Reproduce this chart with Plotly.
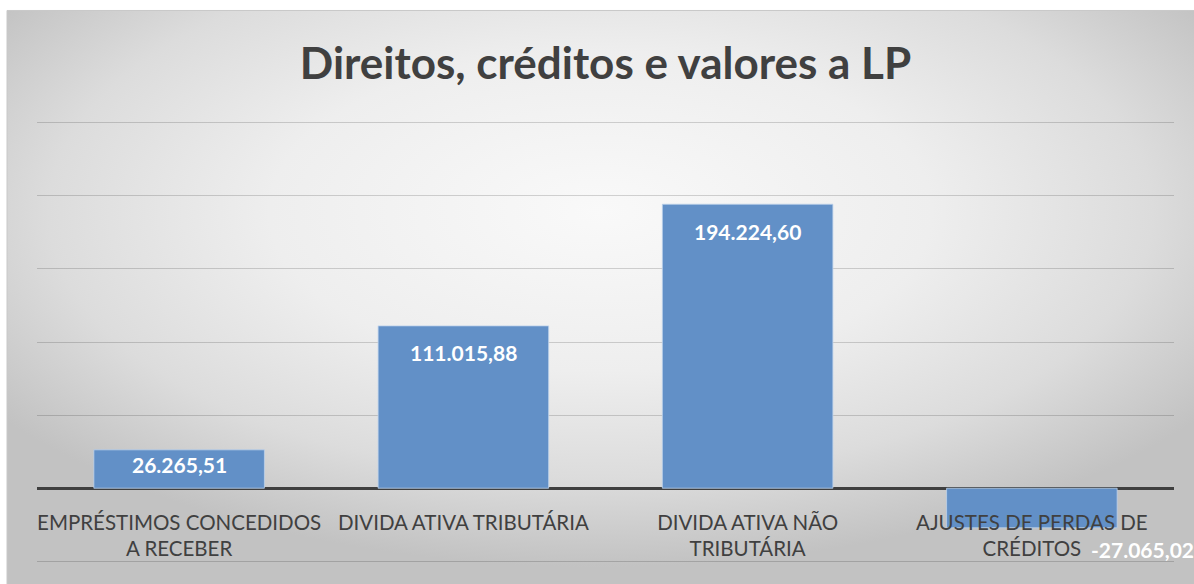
import base64
import plotly.graph_objects as go

categories = [
    "EMPRÉSTIMOS CONCEDIDOS<br>A RECEBER",
    "DIVIDA ATIVA TRIBUTÁRIA",
    "DIVIDA ATIVA NÃO<br>TRIBUTÁRIA",
    "AJUSTES DE PERDAS DE<br>CRÉDITOS",
]
values = [26265.51, 111015.88, 194224.60, -27065.02]
title_text = "Direitos, créditos e valores a LP"

W, H = 1194, 584
PAD = 2500
YMIN, YMAX = -50000 - PAD, 250000 + PAD
PX_PER_50K = 73.0
PH = (YMAX - YMIN) / 50000 * PX_PER_50K
MT = 123 - PAD / 50000 * PX_PER_50K
ML, MR = 37, 20
MB = H - MT - PH
PW = W - ML - MR

FONT = "Lato"
TXT = "#404040"
BAR = "#6290c7"

svg = """<svg xmlns='http://www.w3.org/2000/svg' width='1187' height='573' preserveAspectRatio='none' viewBox='0 0 1187 573'>
<defs><radialGradient id='g' cx='50%' cy='35%' r='62%' fx='50%' fy='35%'>
<stop offset='0' stop-color='#f9f9f9'/>
<stop offset='0.45' stop-color='#eeeeee'/>
<stop offset='0.75' stop-color='#dcdcdc'/>
<stop offset='1' stop-color='#c2c2c2'/>
</radialGradient></defs>
<rect x='0' y='0' width='1187' height='573' fill='url(#g)'/>
</svg>"""
src = "data:image/svg+xml;base64," + base64.b64encode(svg.encode()).decode()

# background region in paper coords (chart area starts at x=7, y=11 px)
bx0 = (7 - ML) / PW
bw = (W - 7) / PW
by1 = (H - MB - 11) / PH
bh = (H - 11) / PH


def br(v):
    return f"{v:,.2f}".replace(",", "X").replace(".", ",").replace("X", ".")


px_per_unit = PH / (YMAX - YMIN)

fig = go.Figure()
fig.add_trace(go.Bar(
    x=categories, y=values,
    marker=dict(color=BAR, line=dict(color="rgba(190,210,235,0.8)", width=1)),
    hoverinfo="skip",
))

for c, v in zip(categories, values):
    if v >= 0:
        bar_px = v * px_per_unit
        fig.add_annotation(x=c, y=v, text=f"<b>{br(v)}</b>", showarrow=False,
                           xanchor="center", yanchor="middle",
                           yshift=-min(27, bar_px * 0.37),
                           font=dict(family=FONT, size=21, color="white"))
    else:
        fig.add_annotation(x=c, y=v, text=f"<b>{br(v)}</b>", showarrow=False,
                           xanchor="left", yanchor="middle", xshift=57, yshift=-22,
                           font=dict(family=FONT, size=21, color="white"))

fig.add_layout_image(dict(source=src, xref="paper", yref="paper", x=bx0, y=by1,
                          sizex=bw, sizey=bh, sizing="stretch", layer="below",
                          xanchor="left", yanchor="top"))
# border of chart area
fig.add_shape(type="line", xref="paper", yref="paper", x0=bx0, x1=bx0 + bw, y0=by1, y1=by1,
              line=dict(color="#c8c8c8", width=1))
fig.add_shape(type="line", xref="paper", yref="paper", x0=bx0, x1=bx0, y0=by1, y1=by1 - bh,
              line=dict(color="#c8c8c8", width=1))

zero_frac = (0 - YMIN) / (YMAX - YMIN)

fig.update_layout(
    width=W, height=H,
    margin=dict(l=ML, r=MR, t=MT, b=MB, autoexpand=False),
    paper_bgcolor="white", plot_bgcolor="rgba(0,0,0,0)",
    bargap=0.4,
    showlegend=False,
    title=dict(text=f"<b>{title_text}</b>", x=0.5, xref="paper", xanchor="center",
               y=(H - 64) / H, yref="container", yanchor="middle",
               font=dict(family=FONT, size=44, color=TXT)),
    xaxis=dict(anchor="free", position=zero_frac, showline=False, ticks="",
               range=[-0.5, len(categories) - 0.5], autorange=False,
               tickfont=dict(family=FONT, size=20.5, color=TXT), ticklabelstandoff=20,
               showgrid=False, automargin=False),
    yaxis=dict(range=[YMIN, YMAX], tick0=0, dtick=50000, showticklabels=False,
               gridcolor="rgba(0,0,0,0.16)", gridwidth=1, automargin=False,
               zeroline=True, zerolinecolor="#3f3f3f", zerolinewidth=3),
)

fig.write_html("out.html", config={"displayModeBar": False},
               post_script="document.body.style.margin='0';document.body.style.overflow='hidden';")
